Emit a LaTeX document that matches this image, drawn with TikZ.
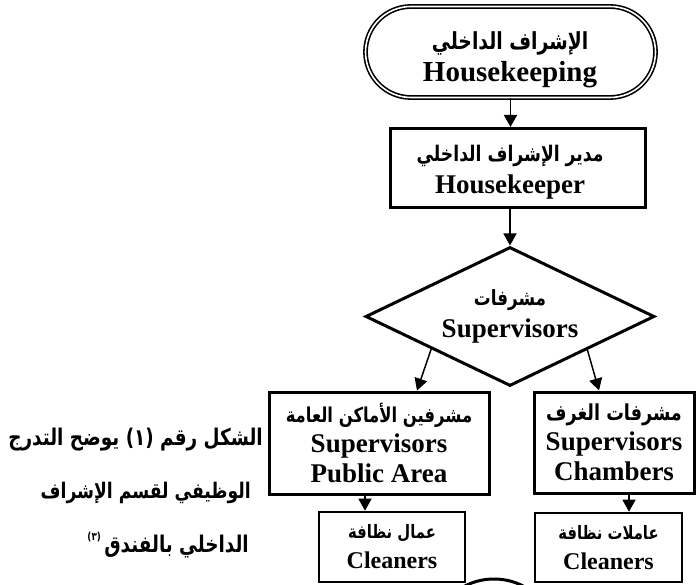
\documentclass[tikz,border=0pt]{standalone}
\usepackage{fontspec}
\setmainfont{Liberation Serif}
\newfontfamily\arfont[Script=Arabic,FakeStretch=0.8]{DejaVu Sans}
\TeXXeTstate=1
\usetikzlibrary{shapes.geometric,shapes.misc,arrows.meta,calc}
\newcommand{\arf}[1]{\fontsize{#1}{31}\selectfont\arfont\bfseries}
\begin{document}
\begin{tikzpicture}[x=1pt,y=-1pt,
  txt/.style={font=\bfseries\fontsize{27}{32}\selectfont,align=center,inner sep=0pt},
  term/.style={rounded rectangle,draw,double,line width=1.6pt,double distance=1.6pt,
     minimum width=290pt,minimum height=91pt,inner sep=0pt},
  boxA/.style={txt,rectangle,draw,line width=3pt},
  dia/.style={txt,diamond,draw,line width=3pt,aspect=2},
  arr/.style={line width=1.5pt,-{Triangle[width=13pt,length=12pt]}},
  captxt/.style={anchor=east,inner sep=0pt},
]
\useasboundingbox (0,0) rectangle (696,585);
\clip (0,0) rectangle (696,585);
\node[term] (t) at (510.5,52) {};
\node[txt,font=\bfseries\fontsize{29}{32}\selectfont] (tt) at (510,60) {{\arf{23.5}\beginR الإشراف الداخلي\endR}\\Housekeeping};
\node[boxA,minimum width=255pt,minimum height=79pt] (m) at (518,168) {};
\node[txt] (mt) at (510,172) {{\arf{21.5}\beginR مدير الإشراف الداخلي\endR}\\Housekeeper};
\node[dia,minimum width=289pt,minimum height=139pt] (d) at (510,316.5)
  {{\arf{21}\beginR مشرفات\endR}\\Supervisors};
\node[boxA,minimum width=220pt,minimum height=102pt,font=\bfseries\fontsize{27}{30}\selectfont] (l) at (379,443)
  {{\arf{20.5}\beginR مشرفين الأماكن العامة\endR}\\Supervisors\\Public Area};
\node[boxA,minimum width=160pt,minimum height=101pt,font=\bfseries\fontsize{27}{30}\selectfont] (r) at (614,442.5)
  {{\arf{22}\beginR مشرفات الغرف\endR}\\Supervisors\\Chambers};
\node[boxA,line width=2.6pt,minimum width=146pt,minimum height=70pt,font=\bfseries\fontsize{24}{30}\selectfont] (lc) at (392,547)
  {{\arf{18.5}\beginR عمال نظافة\endR}\\Cleaners};
\node[boxA,line width=2.6pt,minimum width=147pt,minimum height=69pt,font=\bfseries\fontsize{24}{30}\selectfont] (rc) at (608.5,547.5)
  {{\arf{18.5}\beginR عاملات نظافة\endR}\\Cleaners};
\draw[arr] (t.south) -- (t.south |- m.north);
\draw[arr] (m.south -| d.north) -- (d.north);
\draw[arr] ($(d.west)!0.46!(d.south)$) -- ([xshift=38pt]l.north);
\draw[arr] ($(d.east)!0.47!(d.south)$) -- ([xshift=-15pt]r.north);
\draw[arr] ([xshift=-14pt]l.south) -- ([xshift=-14pt]l.south |- lc.north);
\draw[arr] ([xshift=15pt]r.south) -- ([xshift=15pt]r.south |- rc.north);
\draw[line width=3pt] (494,643) circle[radius=64];
\node[captxt] (c1) at (263,440) {\arf{23}\beginR الشكل رقم (١) يوضح التدرج\endR};
\node[captxt] (c2) at (251,493) {\arf{21.5}\beginR الوظيفي لقسم الإشراف\endR};
\node[captxt] (c3) at (249,547) {\arf{23}\beginR الداخلي بالفندق\endR};
\node[anchor=east,inner sep=0pt] (c4) at ([xshift=-3pt,yshift=10pt]c3.west) {\arf{11}\beginR (٣)\endR};
\end{tikzpicture}
\end{document}
